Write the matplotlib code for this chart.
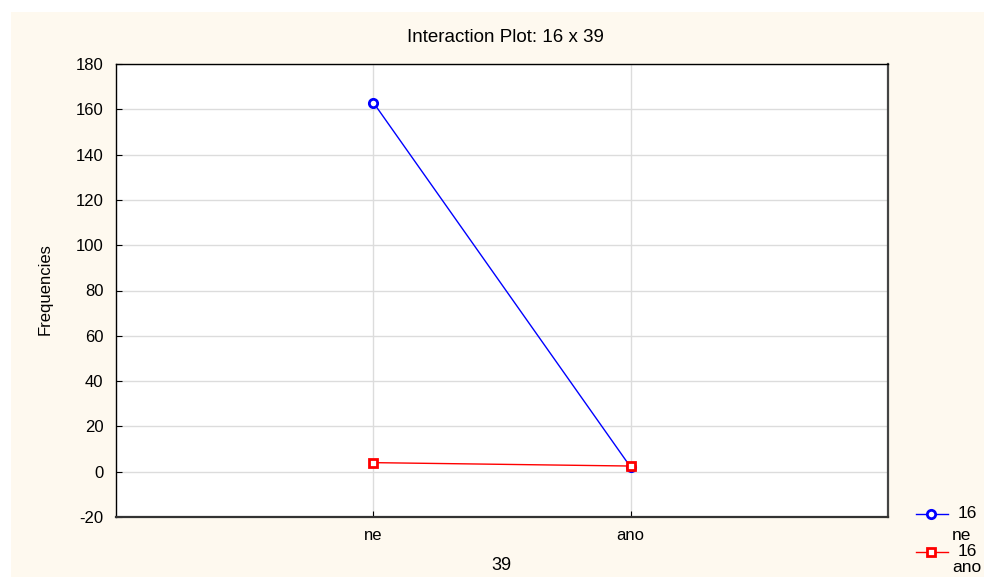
import matplotlib
matplotlib.use("Agg")
import matplotlib.pyplot as plt
from matplotlib.patches import Rectangle
from matplotlib.lines import Line2D

categories = ["ne", "ano"]
blue_vals = [163, 2]
red_vals = [4, 2.5]
yticks = [-20, 0, 20, 40, 60, 80, 100, 120, 140, 160, 180]

plt.rcParams['font.family'] = ['Liberation Sans', 'DejaVu Sans']
plt.rcParams['axes.unicode_minus'] = False

W, H = 984, 577
fig = plt.figure(figsize=(W / 100, H / 100), dpi=100)
fig.patch.set_facecolor("white")
bg = Rectangle((11 / W, 0), 1 - 11 / W, 1 - 12 / H, transform=fig.transFigure,
               facecolor="#FEF9EF", edgecolor="none", zorder=-10)
fig.patches.append(bg)

ax = fig.add_axes([116 / W, 1 - 517 / H, (888 - 116) / W, (517 - 64) / H])
ax.set_facecolor("white")

x = list(range(len(categories)))
ax.plot(x, blue_vals, color="#0000FF", lw=1, marker="o", ms=6, mfc="white",
        mec="#0000FF", mew=2, zorder=3)
ax.plot(x, red_vals, color="#FF0000", lw=1, marker="s", ms=6, mfc="white",
        mec="#FF0000", mew=2, zorder=4)

ax.set_xlim(-1, 2)
ax.set_ylim(-20, 180)
ax.set_xticks(x)
ax.set_xticklabels(categories)
ax.set_yticks(yticks)
ax.grid(True, color="#DCDCDC", lw=1)
ax.set_axisbelow(True)
ax.tick_params(direction="in", length=4, width=0.8, labelsize=12, pad=9)
ax.tick_params(axis="x", pad=8)
for s in ax.spines.values():
    s.set_linewidth(1)
    s.set_color("black")
ax.spines["right"].set_linewidth(1.6)
ax.spines["right"].set_color("#444444")
ax.spines["bottom"].set_linewidth(1.6)
ax.spines["bottom"].set_color("#333333")

fig.text(505 / W, 1 - 37 / H, "Interaction Plot: 16 x 39", ha="center", va="center", fontsize=13.5)
fig.text(501 / W, 1 - 565 / H, "39", ha="center", va="center", fontsize=13)
fig.text(45 / W, 1 - 289 / H, "Frequencies", ha="center", va="center", rotation=90, fontsize=12)

# legend
leg = [("#0000FF", "o", 514, 535, "ne"), ("#FF0000", "s", 552, 567, "ano")]
for col, mk, y1, y2, lab in leg:
    fig.add_artist(Line2D([916 / W, 948 / W], [1 - y1 / H, 1 - y1 / H], transform=fig.transFigure,
                          color=col, lw=1))
    fig.add_artist(Line2D([931 / W], [1 - y1 / H], transform=fig.transFigure, color=col,
                          marker=mk, ms=6, mfc="white", mec=col, mew=2))
    fig.text(958 / W, 1 - y1 / H, "16", ha="left", va="center", fontsize=12.5)
    fig.text(952 / W, 1 - y2 / H, lab, ha="left", va="center", fontsize=12.5)

fig.savefig("out.png", dpi=100)
